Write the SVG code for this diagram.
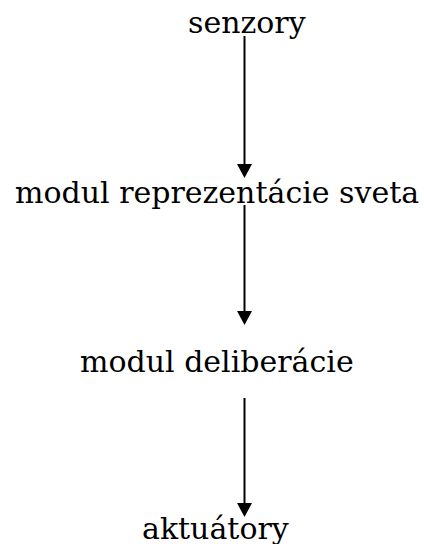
<svg xmlns="http://www.w3.org/2000/svg" width="424" height="544" viewBox="0 0 424 544">
<style>
.t{font-family:"DejaVu Serif","Liberation Serif",serif;font-size:30px;fill:#000}
.c{stroke:#000;stroke-width:2;fill:none}
</style>
<defs>
<marker id="ah" markerWidth="16" markerHeight="15" refX="8" refY="15" orient="auto-start-reverse" markerUnits="userSpaceOnUse" viewBox="0 0 16 15">
<path d="M0,0 L16,0 L8,15 Z" fill="#000"/>
</marker>
</defs>
<rect width="424" height="544" fill="#fff"/>
<g id="connectors">
<line class="c" x1="244.5" y1="36" x2="244.5" y2="164" />
<path d="M237,164 L252,164 L244.5,178 Z" fill="#000"/>
<line class="c" x1="244.5" y1="205" x2="244.5" y2="311" />
<path d="M237,311 L252,311 L244.5,325 Z" fill="#000"/>
<line class="c" x1="244.5" y1="398" x2="244.5" y2="503" />
<path d="M237,503 L252,503 L244.5,517 Z" fill="#000"/>
</g>
<g id="senzory"><text class="t" x="188" y="33">senzory</text></g>
<g id="modul-reprezentacie"><text class="t" x="15" y="203">modul reprezentácie sveta</text></g>
<g id="modul-deliberacie"><text class="t" x="80" y="372">modul deliberácie</text></g>
<g id="aktuatory"><text class="t" x="142" y="539">aktuátory</text></g>
</svg>
